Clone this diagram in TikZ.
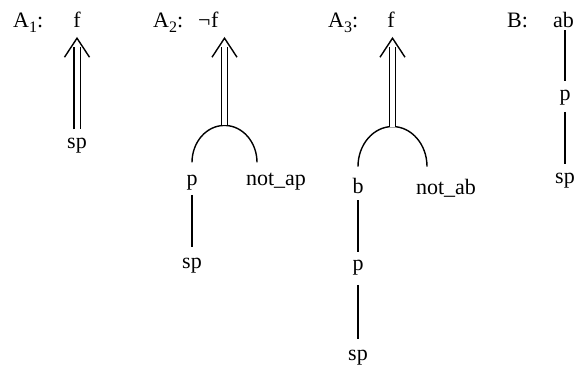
\documentclass[tikz,border=0pt]{standalone}
\usepackage{fontspec}
\setmainfont{Liberation Serif}
\usetikzlibrary{calc}
\newcommand\subn[1]{\raisebox{-5pt}{\fontsize{16}{16}\selectfont #1}}
\newcommand\chev[1]{\draw[ln, line join=miter] ($(#1)+(-12.5,19)$) -- (#1) -- ($(#1)+(12.5,19)$);}
\begin{document}
\begin{tikzpicture}[x=1pt,y=-1pt,
  txt/.style={inner sep=0pt, anchor=base, font=\fontsize{22}{26}\selectfont},
  lbl/.style={txt, anchor=base west},
  ln/.style={line width=1.4pt},
  dbl/.style={double, double distance=5pt, line width=1.4pt}]
\useasboundingbox (0,0) rectangle (575,369);
% A1
\node[lbl] (l1) at (13,28) {A\subn{1}:};
\node[txt] (f1) at (77,28) {f};
\node[txt] (sp1) at (77,148) {sp};
\draw[dbl, shorten <=8pt, shorten >=19pt] (sp1.north) -- (f1.south);
\coordinate (t1) at ($(f1.south)+(0,10)$);
\chev{t1}
% A2
\node[lbl] (l2) at (153,28) {A\subn{2}:};
\node[lbl] (f2) at (198,28) {¬\kern0.5pt f};
\node[txt] (p2) at (192,185) {p};
\node[txt] (na2) at (276,185) {not\_ap};
\node[txt] (sp2) at (192,268) {sp};
\coordinate (a2l) at ($(p2.north)+(0,-12)$);
\draw[ln] (a2l) arc[start angle=180, end angle=0, x radius=32.5pt, y radius=37pt];
\coordinate (top2) at ($(a2l)+(32.5,-37)$);
\draw[dbl, shorten >=19pt] (top2) -- (top2 |- f2.south);
\coordinate (t2) at ($(top2 |- f2.south)+(0,10)$);
\chev{t2}
\draw[ln, shorten <=5pt, shorten >=10pt] (p2.south) -- (sp2.north);
% A3
\node[lbl] (l3) at (328,28) {A\subn{3}:};
\node[txt] (f3) at (391,28) {f};
\node[txt] (b3) at (358,193) {b};
\node[txt] (nab3) at (446,194) {not\_ab};
\node[txt] (p3) at (358,270) {p};
\node[txt] (sp3) at (358,360) {sp};
\coordinate (a3l) at ($(b3.north)+(0,-11)$);
\draw[ln] (a3l) arc[start angle=180, end angle=0, x radius=34.5pt, y radius=40pt];
\coordinate (top3) at ($(a3l)+(34.5,-40)$);
\draw[dbl, shorten >=19pt] (top3) -- (top3 |- f3.south);
\coordinate (t3) at ($(top3 |- f3.south)+(0,10)$);
\chev{t3}
\draw[ln, shorten <=7pt, shorten >=7pt] (b3.south) -- (p3.north);
\draw[ln, shorten <=10pt, shorten >=10pt] (p3.south) -- (sp3.north);
% B
\node[lbl] (l4) at (507,28) {B:};
\node[lbl] (ab) at (553,28) {ab};
\node[txt] (pB) at (565,100) {p};
\node[txt] (spB) at (565,183) {sp};
\draw[ln, shorten <=2pt, shorten >=8pt] (pB |- ab.south) -- (pB.north);
\draw[ln, shorten <=7pt, shorten >=8pt] (pB.south) -- (spB.north);
\end{tikzpicture}
\end{document}
